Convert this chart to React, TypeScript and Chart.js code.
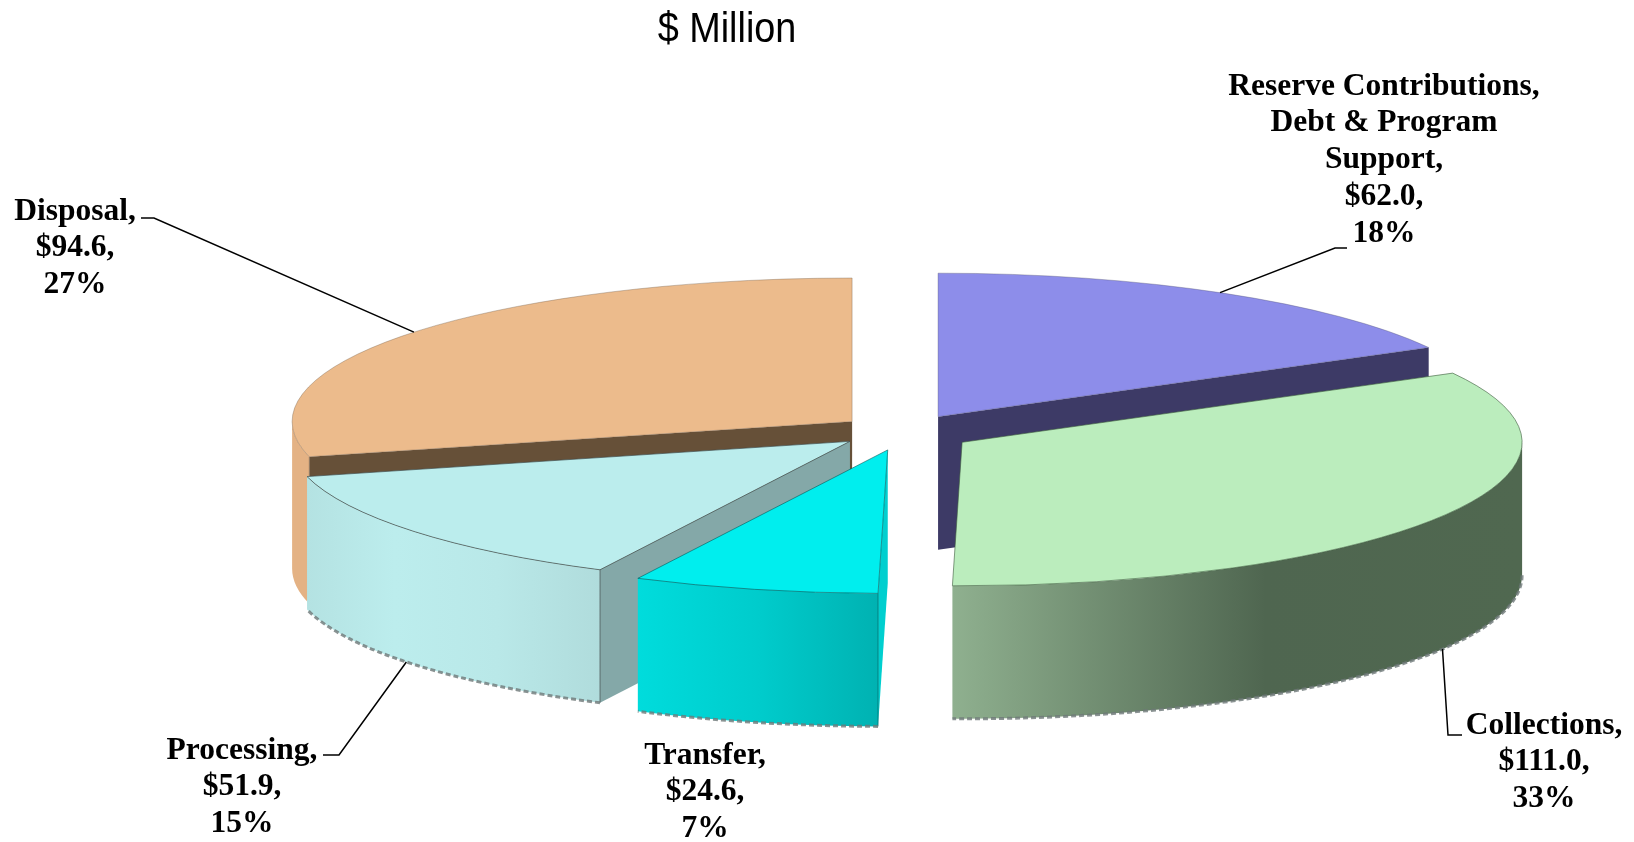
import React, { useEffect, useRef } from "react";
import { Chart, registerables } from "chart.js";

Chart.register(...registerables);

// Budget slices, clockwise from twelve o'clock
const categories = ["Reserve Contributions, Debt & Program Support", "Collections", "Transfer", "Processing", "Disposal"];
const labelLines = [
  ["Reserve Contributions,", "Debt & Program", "Support,"],
  ["Collections,"],
  ["Transfer,"],
  ["Processing,"],
  ["Disposal,"],
];
const millions = [62.0, 111.0, 24.6, 51.9, 94.6];
const percents = [18, 33, 7, 15, 27];
const heading = "$ Million";

const topColors = ["#8d8dea", "#bbedbd", "#00eeee", "#bbeded", "#ecbb8c"];
const rimColors = ["rgba(80,80,110,0.35)", "rgba(60,90,60,0.6)", "rgba(0,90,90,0.6)", "rgba(60,70,70,0.65)", "rgba(110,90,70,0.35)"];
const cutColors = ["#3d3a66", "#4f6650", "#00cfcf", "#84a8a8", "#665038"];
const wallStops: [number, string][][] = [
  [[0, "#3d3a66"], [1, "#3d3a66"]],
  [[0, "#8fb08f"], [0.55, "#4f6650"], [1, "#506850"]],
  [[0, "#00dcdc"], [0.5, "#00cccc"], [1, "#00b2b2"]],
  [[0, "#b4e2e2"], [0.3, "#bceded"], [0.65, "#b9e8e8"], [1, "#b0dcdc"]],
  [[0, "#e4b284"], [1, "#e4b284"]],
];
const explode = [71, 74, 72, 62, 63];
const nudgeX = [0, 0, 5, 0, 0];
const wallDepths = [133, 133, 133, 133, 147];

// Squashed-disc projection of the pie
const CX = 900;
const CY = 432;
const RX = 560;
const RY = 143.5;
const PERSPECTIVE_SKEW = (5.5 * Math.PI) / 180;
const paintOrder = [4, 0, 3, 1, 2];

const LABEL_FONT = 'bold 31.5px "Liberation Serif", serif';
const LINE_HEIGHT = 36.8;
const labelPlaces = [
  { x: 1384, y: 86.5 },
  { x: 1544, y: 725.5 },
  { x: 705, y: 755.5 },
  { x: 242, y: 750.5 },
  { x: 75, y: 211.5 },
];
// Leader lines: label end, elbow, then the rim of the slice
const leaders: ({ from: number[]; elbow: number[]; front: boolean; lean: number } | null)[] = [
  { from: [1347, 248], elbow: [1335, 248], front: false, lean: -2.2 },
  { from: [1462, 735], elbow: [1448, 735], front: true, lean: -2 },
  null,
  { from: [323, 755], elbow: [339, 755], front: true, lean: -1.5 },
  { from: [141, 218], elbow: [154, 218], front: false, lean: -2 },
];

// The ends of the long axis look pulled upward-left by the camera tilt
const skewed = (a: number) => a - PERSPECTIVE_SKEW * Math.pow(Math.cos(a), 4);

function sliceGeometry(arc: any, i: number) {
  const { startAngle, endAngle } = arc.getProps(["startAngle", "endAngle"], true);
  const mid = (startAngle + endAngle) / 2;
  const off = arc.options.offset || 0;
  return {
    a0: skewed(startAngle),
    a1: skewed(endAngle),
    mid,
    x: CX + Math.cos(mid) * off + nudgeX[i],
    y: CY + Math.sin(mid) * off * (RY / RX),
  };
}

function drawSlice(ctx: CanvasRenderingContext2D, arc: any, i: number) {
  const g = sliceGeometry(arc, i);
  const depth = wallDepths[i];
  const rim = (a: number) => [g.x + Math.cos(a) * RX, g.y + Math.sin(a) * RY];

  // Radial cut faces that turn toward the viewer
  const faces: number[] = [];
  if (Math.cos(g.a0) < -1e-6) faces.push(g.a0);
  if (Math.cos(g.a1) > 1e-6) faces.push(g.a1);
  for (const a of faces) {
    const [px, py] = rim(a);
    ctx.beginPath();
    ctx.moveTo(g.x, g.y);
    ctx.lineTo(px, py);
    ctx.lineTo(px, py + depth);
    ctx.lineTo(g.x, g.y + depth);
    ctx.closePath();
    ctx.fillStyle = cutColors[i];
    ctx.fill();
  }

  // Outer wall, only where it faces the viewer
  const w0 = Math.max(g.a0, 0);
  const w1 = Math.min(g.a1, Math.PI);
  if (w1 > w0) {
    const xs = [rim(w0)[0], rim(w1)[0]];
    if (w0 < Math.PI / 2 && w1 > Math.PI / 2) xs.push(g.x);
    if (w0 === 0) xs.push(g.x + RX);
    const grad = ctx.createLinearGradient(Math.min(...xs), 0, Math.max(...xs), 0);
    wallStops[i].forEach(([p, c]) => grad.addColorStop(p, c));
    ctx.beginPath();
    ctx.ellipse(g.x, g.y, RX, RY, 0, w0, w1);
    ctx.ellipse(g.x, g.y + depth, RX, RY, 0, w1, w0, true);
    ctx.closePath();
    ctx.fillStyle = grad;
    ctx.fill();

    // Vertical seam where the wall meets the cut face
    if (faces.includes(g.a0)) {
      const [sx, sy] = rim(g.a0);
      ctx.beginPath();
      ctx.moveTo(sx, sy);
      ctx.lineTo(sx, sy + depth);
      ctx.strokeStyle = rimColors[i];
      ctx.lineWidth = 1;
      ctx.stroke();
    }

    // Grainy lower edge of the wall
    if (w1 - w0 > 0.3) {
      ctx.save();
      ctx.beginPath();
      ctx.ellipse(g.x, g.y + depth, RX, RY, 0, w0, w1);
      ctx.strokeStyle = "rgba(110,120,120,0.8)";
      ctx.lineWidth = 3;
      ctx.setLineDash([5, 3]);
      ctx.stroke();
      ctx.restore();
    }
  }

  // Top face
  ctx.beginPath();
  ctx.moveTo(g.x, g.y);
  ctx.ellipse(g.x, g.y, RX, RY, 0, g.a0, g.a1);
  ctx.closePath();
  ctx.fillStyle = topColors[i];
  ctx.fill();
  ctx.strokeStyle = rimColors[i];
  ctx.lineWidth = 1;
  ctx.stroke();
}

const explodedPie = {
  id: "explodedPie",
  beforeDatasetsDraw(chart: any) {
    const ctx: CanvasRenderingContext2D = chart.ctx;
    const arcs = chart.getDatasetMeta(0).data;
    ctx.save();
    paintOrder.forEach((i) => drawSlice(ctx, arcs[i], i));
    ctx.restore();
    return false;
  },
  afterDraw(chart: any) {
    const ctx: CanvasRenderingContext2D = chart.ctx;
    const arcs = chart.getDatasetMeta(0).data;
    ctx.save();

    // Leader lines
    ctx.strokeStyle = "#000";
    ctx.lineWidth = 1.5;
    leaders.forEach((l, i) => {
      if (!l) return;
      const g = sliceGeometry(arcs[i], i);
      const a = g.mid + (l.lean * Math.PI) / 180;
      ctx.beginPath();
      ctx.moveTo(l.from[0], l.from[1]);
      ctx.lineTo(l.elbow[0], l.elbow[1]);
      ctx.lineTo(g.x + Math.cos(a) * RX, g.y + Math.sin(a) * RY + (l.front ? wallDepths[i] : 0));
      ctx.stroke();
    });

    // Slice labels
    ctx.fillStyle = "#000";
    ctx.textAlign = "center";
    ctx.textBaseline = "middle";
    ctx.font = LABEL_FONT;
    categories.forEach((_, i) => {
      const lines = [...labelLines[i], `$${millions[i].toFixed(1)},`, `${percents[i]}%`];
      lines.forEach((t, n) => ctx.fillText(t, labelPlaces[i].x, labelPlaces[i].y + n * LINE_HEIGHT));
    });

    // Heading, condensed
    ctx.translate(727, 30);
    ctx.scale(0.9, 1);
    ctx.font = '42px "Liberation Sans", sans-serif';
    ctx.fillText(heading, 0, 0);
    ctx.restore();
  },
};

export default function App() {
  const ref = useRef<HTMLCanvasElement>(null);

  useEffect(() => {
    const chart = new Chart(ref.current!, {
      type: "pie",
      data: {
        labels: categories,
        datasets: [{ data: millions, backgroundColor: topColors, offset: explode, borderWidth: 0 }],
      },
      options: {
        responsive: false,
        animation: false,
        events: [],
        plugins: { legend: { display: false }, tooltip: { enabled: false }, title: { display: false } },
      },
      plugins: [explodedPie],
    } as any);
    return () => chart.destroy();
  }, []);

  return (
    <div style={{ position: "fixed", left: 0, top: 0, width: 1634, height: 842, background: "#fff" }}>
      <canvas ref={ref} width={1634} height={842} style={{ display: "block" }} />
    </div>
  );
}
